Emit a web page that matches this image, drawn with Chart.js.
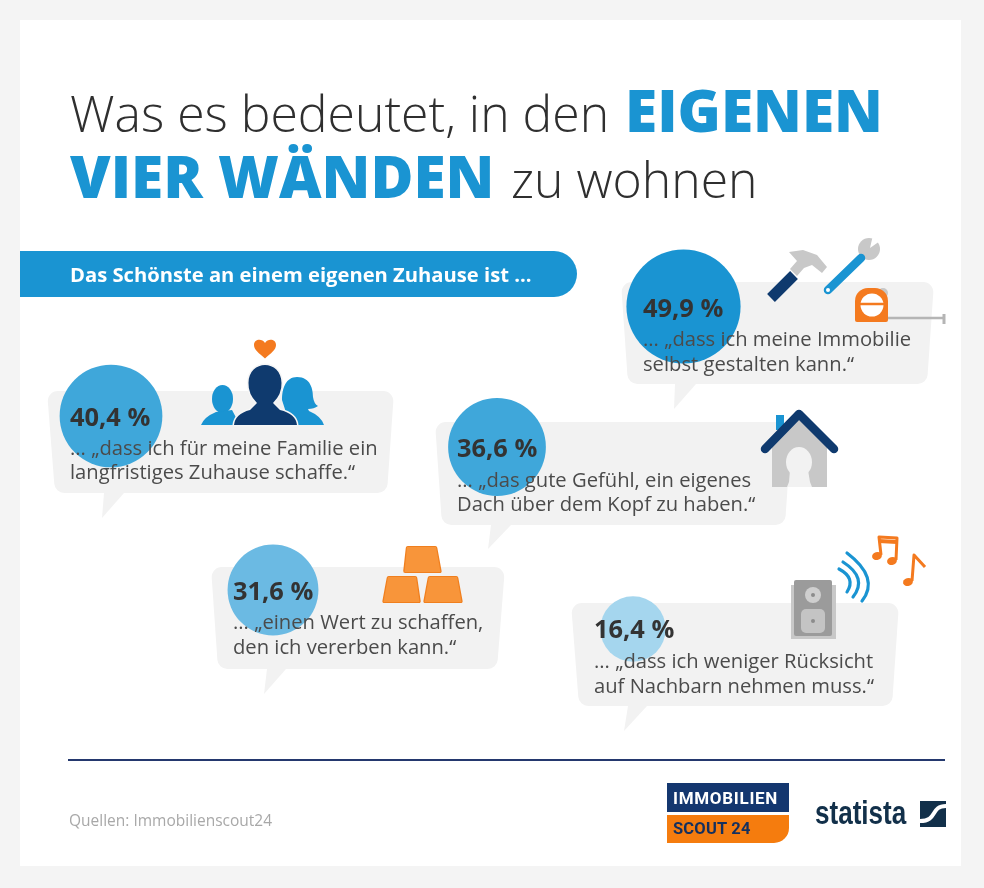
<!DOCTYPE html>
<html lang="de">
<head>
<meta charset="utf-8">
<title>Was es bedeutet, in den eigenen vier Wänden zu wohnen</title>
<script src="https://cdn.jsdelivr.net/npm/chart.js@4"></script>
<style>
  html, body { margin: 0; padding: 0; background: #f4f4f4; }
  #stage { position: relative; width: 984px; height: 888px; overflow: hidden; font-family: "Open Sans", sans-serif; }
  #panel { position: absolute; left: 20px; top: 20px; width: 941px; height: 846px; background: #fff; }
  #grafik { position: absolute; left: 0; top: 0; }
  .t { position: absolute; line-height: 0; white-space: nowrap; }
  .light { font-weight: 300; color: #2f2f2f; font-size: 49.9px; }
  .blue { font-weight: 800; color: #1a94d2; font-size: 58.6px; }
  .banner { font-weight: 700; color: #fff; font-size: 20.2px; }
  .pct { font-weight: 700; color: #333; font-size: 25.4px; }
  .quote { color: #4b4b4b; font-size: 20.2px; }
  .source { color: #a8a8a8; font-size: 15.5px; }
  .logo1 { font-family: Roboto, sans-serif; font-weight: 700; color: #fff; font-size: 17px; letter-spacing: .7px; }
  .logo2 { font-family: Roboto, sans-serif; font-weight: 700; color: #14305f; font-size: 16.5px; letter-spacing: .2px; }
  .logo3 { font-family: "Liberation Sans", sans-serif; font-weight: 700; color: #12304a; font-size: 33px; transform: scaleX(.79); transform-origin: left center; }
</style>
</head>
<body>
<div id="stage">
  <div id="panel"></div>
  <canvas id="grafik" width="984" height="888"></canvas>
</div>
<script>
// daten
const aussagen = [
  ['... „dass ich meine Immobilie', 'selbst gestalten kann.“'],
  ['... „dass ich für meine Familie ein', 'langfristiges Zuhause schaffe.“'],
  ['... „das gute Gefühl, ein eigenes', 'Dach über dem Kopf zu haben.“'],
  ['... „einen Wert zu schaffen,', 'den ich vererben kann.“'],
  ['... „dass ich weniger Rücksicht', 'auf Nachbarn nehmen muss.“']
];
const anteile = [49.9, 40.4, 36.6, 31.6, 16.4];

// layout, kommt nicht aus den daten
const kreisX = [683.5, 111, 497, 273, 633];
const kreisY = [306.5, 416, 447, 590, 629];
const kreisFarben = ['#1a94d2', '#3fa7da', '#3fa7da', '#6bbae3', '#a5d6ee'];
const textPos = [
  { x: 643, pct: 316, l1: 345, l2: 370 },
  { x: 70, pct: 425, l1: 454, l2: 478 },
  { x: 457, pct: 456, l1: 486, l2: 510 },
  { x: 233, pct: 599, l1: 628, l2: 653 },
  { x: 594, pct: 637, l1: 667, l2: 692 }
];
const sprechblasen = [
  { ecken: [[621, 282], [934, 282], [927, 384], [628, 384]], zipfel: [[675, 384], [674, 409], [696, 384]] },
  { ecken: [[47, 391], [394, 391], [387, 493], [55, 493]], zipfel: [[104, 493], [102, 518], [124, 493]] },
  { ecken: [[435, 422], [792, 422], [785, 525], [442, 525]], zipfel: [[491, 525], [488, 549], [511, 525]] },
  { ecken: [[211, 567], [505, 567], [497, 669], [218, 669]], zipfel: [[267, 669], [264, 694], [286, 669]] },
  { ecken: [[571, 603], [899, 603], [892, 706], [579, 706]], zipfel: [[628, 706], [624, 731], [647, 706]] }
];

const BLAU = '#1a94d2', NAVY = '#0f3a6e', ORANGE = '#f47a1f', GRAU = '#c8c8c8';

function poly(ctx, pts, farbe) {
  ctx.fillStyle = farbe;
  ctx.beginPath();
  pts.forEach((p, i) => i ? ctx.lineTo(p[0], p[1]) : ctx.moveTo(p[0], p[1]));
  ctx.closePath();
  ctx.fill();
}

function rundPoly(ctx, pts, r, farbe) {
  ctx.fillStyle = farbe;
  ctx.beginPath();
  const n = pts.length;
  ctx.moveTo((pts[n - 1][0] + pts[0][0]) / 2, (pts[n - 1][1] + pts[0][1]) / 2);
  for (let i = 0; i < n; i++) {
    const a = pts[i], b = pts[(i + 1) % n];
    ctx.arcTo(a[0], a[1], b[0], b[1], r);
  }
  ctx.closePath();
  ctx.fill();
}

function kreis(ctx, x, y, r, farbe) {
  ctx.fillStyle = farbe;
  ctx.beginPath();
  ctx.arc(x, y, r, 0, Math.PI * 2);
  ctx.fill();
}

function linie(ctx, pts, breite, farbe, cap) {
  ctx.strokeStyle = farbe;
  ctx.lineWidth = breite;
  ctx.lineCap = cap || 'round';
  ctx.lineJoin = 'round';
  ctx.beginPath();
  pts.forEach((p, i) => i ? ctx.lineTo(p[0], p[1]) : ctx.moveTo(p[0], p[1]));
  ctx.stroke();
}

function werkzeug(ctx) {
  // hammer
  poly(ctx, [[789, 252], [803, 250], [817, 255], [827, 267], [822, 273], [812, 265], [804, 268], [797, 276], [790, 269], [797, 261]], GRAU);
  linie(ctx, [[771, 298], [794, 275]], 11, NAVY, 'butt');
  // schraubenschluessel
  kreis(ctx, 869, 249, 11, GRAU);
  poly(ctx, [[870, 248], [873, 235], [880, 241]], '#fff');
  linie(ctx, [[828, 290], [861, 258]], 8.5, BLAU);
  kreis(ctx, 828, 290, 2, '#fff');
  // massband
  kreis(ctx, 883, 293, 5, GRAU);
  linie(ctx, [[886, 318], [944, 318]], 2.5, '#b5b5b5', 'butt');
  linie(ctx, [[944, 314], [944, 324]], 3, '#b5b5b5', 'butt');
  ctx.fillStyle = ORANGE;
  ctx.beginPath();
  ctx.roundRect(855, 288, 33, 34, [13, 13, 2, 2]);
  ctx.fill();
  kreis(ctx, 872, 305, 11.5, '#fff');
  linie(ctx, [[860, 304], [884, 304]], 2.5, ORANGE, 'butt');
}

function familie(ctx) {
  // kind
  ctx.fillStyle = BLAU;
  ctx.beginPath();
  ctx.ellipse(222.5, 399, 10.5, 14, 0, 0, Math.PI * 2);
  ctx.fill();
  ctx.beginPath();
  ctx.moveTo(201, 425);
  ctx.quadraticCurveTo(204, 417, 216, 412);
  ctx.lineTo(232, 410);
  ctx.lineTo(240, 425);
  ctx.closePath();
  ctx.fill();
  // frau
  ctx.beginPath();
  ctx.moveTo(297, 377);
  ctx.bezierCurveTo(311, 377, 313, 390, 313, 397);
  ctx.quadraticCurveTo(314, 404, 318, 406);
  ctx.quadraticCurveTo(314, 409, 308, 409);
  ctx.lineTo(309, 411);
  ctx.quadraticCurveTo(321, 416, 324, 425);
  ctx.lineTo(290, 425);
  ctx.lineTo(282, 400);
  ctx.bezierCurveTo(282, 388, 286, 377, 297, 377);
  ctx.closePath();
  ctx.fill();
  // vater, heller rand trennt die figuren
  ctx.fillStyle = NAVY;
  ctx.strokeStyle = '#f6f6f6';
  ctx.lineWidth = 3;
  ctx.beginPath();
  ctx.moveTo(234, 425);
  ctx.quadraticCurveTo(235, 414, 250, 410);
  ctx.lineTo(257, 403);
  ctx.quadraticCurveTo(248, 394, 248.5, 383);
  ctx.bezierCurveTo(248.5, 359, 281.5, 359, 281.5, 383);
  ctx.quadraticCurveTo(282, 394, 273, 403);
  ctx.lineTo(280, 410);
  ctx.quadraticCurveTo(296, 414, 297, 425);
  ctx.closePath();
  ctx.stroke();
  ctx.fill();
  // herz
  ctx.fillStyle = ORANGE;
  ctx.beginPath();
  ctx.moveTo(265, 358.5);
  ctx.bezierCurveTo(259, 353, 254, 350, 254, 345);
  ctx.bezierCurveTo(254, 339, 262, 338, 265, 343);
  ctx.bezierCurveTo(268, 338, 276, 339, 276, 345);
  ctx.bezierCurveTo(276, 350, 271, 353, 265, 358.5);
  ctx.fill();
}

function haus(ctx) {
  ctx.fillStyle = BLAU;
  ctx.fillRect(776, 415, 8, 15);
  poly(ctx, [[799, 416], [772, 446], [772, 487], [827, 487], [827, 446]], GRAU);
  // person im eingang
  ctx.fillStyle = '#f2f2f2';
  ctx.beginPath();
  ctx.ellipse(799, 462, 13, 15, 0, 0, Math.PI * 2);
  ctx.fill();
  poly(ctx, [[790, 470], [808, 470], [810, 482], [812, 487], [787, 487], [789, 482]], '#f2f2f2');
  linie(ctx, [[765, 449], [799, 414], [834, 449]], 8.5, NAVY);
}

function gold(ctx) {
  const barren = [
    [[406, 546], [437, 546], [442, 573], [403, 573]],
    [[387, 576], [417, 576], [421, 603], [382, 603]],
    [[428, 576], [458, 576], [463, 603], [423, 603]]
  ];
  barren.forEach(b => {
    rundPoly(ctx, b, 2, '#f07f1e');
    const innen = [[b[0][0] + 1, b[0][1] + 1], [b[1][0] - 1, b[1][1] + 1], [b[2][0] - 1.5, b[2][1] - 1], [b[3][0] + 1.5, b[3][1] - 1]];
    poly(ctx, innen, '#f8953a');
  });
}

function musik(ctx) {
  // lautsprecher
  ctx.fillStyle = '#c8c8c8';
  ctx.fillRect(791, 585, 45, 54);
  ctx.fillStyle = '#9b9b9b';
  ctx.beginPath();
  ctx.roundRect(794, 580, 38, 56, 2);
  ctx.fill();
  kreis(ctx, 813, 595, 8, '#cfcfcf');
  kreis(ctx, 813, 595, 2, '#8c8c8c');
  ctx.fillStyle = '#c4c4c4';
  ctx.beginPath();
  ctx.roundRect(801, 609, 24, 24, 5);
  ctx.fill();
  kreis(ctx, 813, 621, 2, '#8c8c8c');
  // schallwellen
  ctx.strokeStyle = BLAU;
  ctx.lineWidth = 3.2;
  ctx.lineCap = 'round';
  [[839, 569, 856, 578, 847, 592], [843, 562, 868, 578, 853, 597], [847, 553, 880, 578, 862, 601]].forEach(w => {
    ctx.beginPath();
    ctx.moveTo(w[0], w[1]);
    ctx.quadraticCurveTo(w[2], w[3], w[4], w[5]);
    ctx.stroke();
  });
  // noten
  ctx.fillStyle = '#f47a1f';
  ctx.beginPath();
  ctx.ellipse(877, 556, 5, 4, -0.3, 0, Math.PI * 2);
  ctx.ellipse(892, 561, 5, 4, -0.3, 0, Math.PI * 2);
  ctx.fill();
  linie(ctx, [[881, 555], [879, 537], [897, 538], [896, 560]], 3, '#f47a1f', 'butt');
  linie(ctx, [[879, 541], [897, 542]], 4, '#f47a1f', 'butt');
  ctx.beginPath();
  ctx.ellipse(908, 582, 5, 4, -0.3, 0, Math.PI * 2);
  ctx.fill();
  linie(ctx, [[912, 581], [914, 555], [925, 567]], 3, '#f47a1f', 'butt');
}

function logos(ctx) {
  ctx.fillStyle = '#14376f';
  ctx.fillRect(667, 783, 122, 29);
  ctx.fillStyle = '#f57c0e';
  ctx.beginPath();
  ctx.roundRect(667, 815, 122, 28, [0, 0, 15, 0]);
  ctx.fill();
  ctx.fillStyle = '#12304a';
  ctx.fillRect(920, 801, 26, 26);
  ctx.strokeStyle = '#fff';
  ctx.lineWidth = 4;
  ctx.lineCap = 'butt';
  ctx.beginPath();
  ctx.moveTo(946, 806);
  ctx.bezierCurveTo(930, 806, 938, 821, 920, 821);
  ctx.stroke();
}

const dekoPlugin = {
  id: 'deko',
  beforeDatasetsDraw(chart) {
    const ctx = chart.ctx;
    ctx.save();
    // banner
    ctx.fillStyle = BLAU;
    ctx.beginPath();
    ctx.roundRect(20, 251, 557, 46, [0, 23, 23, 0]);
    ctx.fill();
    sprechblasen.forEach(b => {
      rundPoly(ctx, b.ecken, 10, '#f2f2f2');
      poly(ctx, b.zipfel, '#f2f2f2');
    });
    // trennlinie
    linie(ctx, [[68, 760], [945, 760]], 2, '#24386e', 'butt');
    ctx.restore();
  },
  afterDatasetsDraw(chart) {
    const ctx = chart.ctx;
    ctx.save();
    werkzeug(ctx);
    familie(ctx);
    haus(ctx);
    gold(ctx);
    musik(ctx);
    logos(ctx);
    ctx.restore();
  }
};

const chart = new Chart(document.getElementById('grafik').getContext('2d'), {
  type: 'bubble',
  data: {
    labels: aussagen.map(a => a.join(' ')),
    datasets: [{
      label: 'Das Schönste an einem eigenen Zuhause ist ...',
      // flaeche proportional zum anteil
      data: anteile.map((v, i) => ({ x: kreisX[i], y: kreisY[i], r: 8.08 * Math.sqrt(v) })),
      backgroundColor: kreisFarben,
      borderWidth: 0,
      clip: false
    }]
  },
  options: {
    responsive: false,
    animation: false,
    layout: { padding: 0 },
    plugins: { legend: { display: false }, tooltip: { enabled: false } },
    scales: {
      x: { type: 'linear', min: 0, max: 984, display: false },
      y: { type: 'linear', min: 0, max: 888, reverse: true, display: false }
    }
  },
  plugins: [dekoPlugin]
});

// bubble-charts ruecken die flaeche um den groessten radius ein, also achsen darauf setzen
chart.options.scales.x.min = chart.chartArea.left;
chart.options.scales.x.max = chart.chartArea.right;
chart.options.scales.y.min = chart.chartArea.top;
chart.options.scales.y.max = chart.chartArea.bottom;
chart.update();

// texte liegen ueber dem canvas
const stage = document.getElementById('stage');
function text(inhalt, x, basis, klasse) {
  const el = document.createElement('div');
  el.className = 't ' + klasse;
  el.textContent = inhalt;
  stage.appendChild(el);
  const groesse = parseFloat(getComputedStyle(el).fontSize);
  el.style.left = x + 'px';
  el.style.top = (basis - 0.37 * groesse) + 'px';
  return el;
}

text('Was es bedeutet, in den', 70, 131, 'light');
text('EIGENEN', 625, 131, 'blue');
text('VIER WÄNDEN', 70, 197, 'blue');
text('zu wohnen', 511, 197, 'light');
text('Das Schönste an einem eigenen Zuhause ist ...', 70, 281, 'banner');

anteile.forEach((v, i) => {
  const p = textPos[i];
  text(v.toFixed(1).replace('.', ',') + ' %', p.x, p.pct, 'pct');
  text(aussagen[i][0], p.x, p.l1, 'quote');
  text(aussagen[i][1], p.x, p.l2, 'quote');
});

text('Quellen: Immobilienscout24', 69, 826, 'source');
text('IMMOBILIEN', 673, 804, 'logo1');
text('SCOUT 24', 673, 835, 'logo2');
text('statista', 815, 825, 'logo3');
</script>
</body>
</html>
